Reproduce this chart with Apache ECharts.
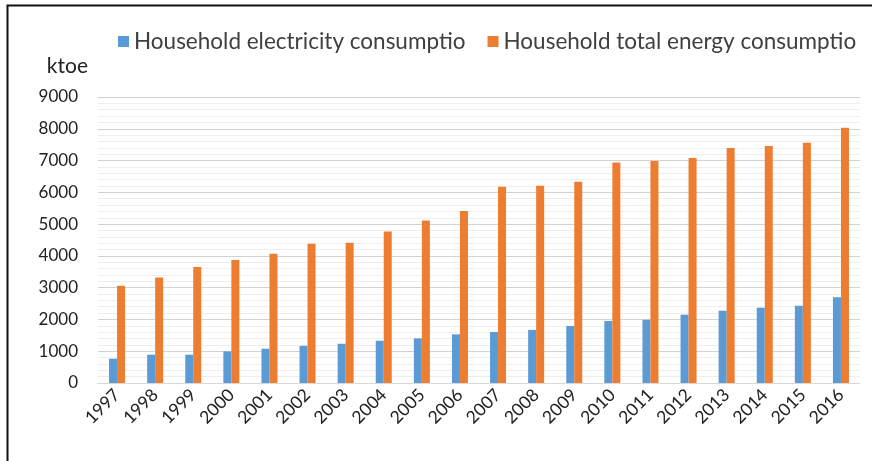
<!DOCTYPE html>
<html>
<head>
<meta charset="utf-8">
<script src="https://cdn.jsdelivr.net/npm/echarts@6/dist/echarts.min.js"></script>
<style>
  html, body { margin: 0; padding: 0; background: #fff; }
  #chart { width: 872px; height: 461px; }
</style>
</head>
<body>
<div id="chart"></div>
<script>
// Household energy use, ktoe
const years = ['1997','1998','1999','2000','2001','2002','2003','2004','2005','2006',
               '2007','2008','2009','2010','2011','2012','2013','2014','2015','2016'];
const electricity = [765, 890, 890, 995, 1080, 1170, 1235, 1330, 1405, 1530,
                     1605, 1670, 1795, 1950, 1990, 2150, 2275, 2370, 2430, 2695];
const totalEnergy = [3060, 3320, 3650, 3870, 4070, 4380, 4415, 4770, 5115, 5410,
                     6175, 6210, 6335, 6940, 6985, 7080, 7395, 7460, 7560, 8035];
const seriesNames = ['Household electricity consumptio', 'Household total energy consumptio'];
const unitLabel = 'ktoe';

const font = 'Lato, "Noto Sans", sans-serif';
const legendColor = '#404040';
const axisColor = '#222';

const chart = echarts.init(document.getElementById('chart'), null, { renderer: 'canvas' });
chart.setOption({
  animation: false,
  backgroundColor: '#fff',
  textStyle: { fontFamily: font },
  legend: {
    top: 25,
    left: 113,
    itemWidth: 11,
    itemHeight: 11,
    itemGap: 22,
    icon: 'rect',
    textStyle: { fontSize: 22.5, color: legendColor, fontFamily: font }
  },
  grid: { left: 98, right: 12, top: 97, bottom: 78, containLabel: false },
  xAxis: {
    type: 'category',
    data: years,
    axisLine: { show: true, lineStyle: { color: '#d9d9d9' } },
    axisTick: { show: false },
    axisLabel: { rotate: 45, fontSize: 17.5, color: axisColor, margin: 9, fontFamily: font }
  },
  yAxis: {
    type: 'value',
    min: 0,
    max: 9000,
    interval: 1000,
    name: unitLabel,
    nameLocation: 'end',
    nameGap: 20,
    nameTextStyle: { fontSize: 21, color: axisColor, align: 'right', padding: [0, 10, 0, 0], fontFamily: font },
    axisLine: { show: false },
    axisTick: { show: false },
    axisLabel: {
      fontSize: 17,
      color: axisColor,
      margin: 20,
      fontFamily: font,
      formatter: function (v) { return String(v); }
    },
    splitLine: { lineStyle: { color: '#d2d2d2', width: 1 } },
    minorTick: { show: false, splitNumber: 5 },
    minorSplitLine: { show: true, lineStyle: { color: '#eeeeee', width: 1 } }
  },
  series: [
    {
      name: seriesNames[0],
      type: 'bar',
      data: electricity,
      barWidth: 8,
      barGap: '0%',
      itemStyle: { color: '#5B9BD5' }
    },
    {
      name: seriesNames[1],
      type: 'bar',
      data: totalEnergy,
      barWidth: 8,
      barGap: '0%',
      itemStyle: { color: '#ED7D31' }
    }
  ],
  graphic: [
    {
      type: 'polyline',
      shape: { points: [[7.5, 461], [7.5, 5.5], [872, 5.5]] },
      style: { stroke: '#111', lineWidth: 2, fill: null },
      silent: true
    }
  ]
});
</script>
</body>
</html>
